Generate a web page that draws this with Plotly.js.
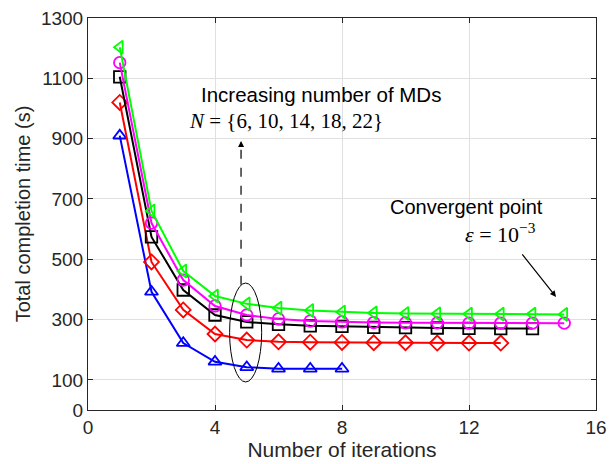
<!DOCTYPE html>
<html>
<head>
<meta charset="utf-8">
<script src="https://cdn.plot.ly/plotly-3.0.1.min.js"></script>
<style>
  html, body { margin: 0; padding: 0; background: #ffffff; }
  #chart { width: 616px; height: 464px; }
</style>
</head>
<body>
<div id="chart"></div>
<script>
// Total completion time per iteration for different numbers of MDs
const iterN6  = [1, 2, 3, 4, 5, 6, 7, 8];
const timeN6  = [910, 392, 222, 160, 142, 137, 137, 137];

const iterN10 = [1, 2, 3, 4, 5, 6, 7, 8, 9, 10, 11, 12, 13];
const timeN10 = [1020, 491, 332, 252, 232, 226, 225, 224, 223, 223, 222, 222, 222];

const iterN14 = [1, 2, 3, 4, 5, 6, 7, 8, 9, 10, 11, 12, 13, 14];
const timeN14 = [1105, 574, 398, 315, 292, 284, 279, 277, 274, 273, 272, 271, 270, 270];

const iterN18 = [1, 2, 3, 4, 5, 6, 7, 8, 9, 10, 11, 12, 13, 14, 15];
const timeN18 = [1152, 620, 431, 345, 315, 302, 295, 292, 290, 289, 289, 288, 288, 288, 288];

const iterN22 = [1, 2, 3, 4, 5, 6, 7, 8, 9, 10, 11, 12, 13, 14, 15];
const timeN22 = [1203, 660, 461, 378, 352, 338, 330, 325, 322, 320, 319, 318, 318, 318, 317];

const xTicks = [0, 4, 8, 12, 16];
const yTicks = [0, 100, 300, 500, 700, 900, 1100, 1300];

const SANS = 'Liberation Sans, Arial, sans-serif';
const SERIF = 'Liberation Serif, Times New Roman, serif';

function series(x, y, color, symbol) {
  return {
    x: x, y: y, type: 'scatter', mode: 'lines+markers',
    line: { color: color, width: 2 },
    marker: { symbol: symbol, size: 11.5, color: color, line: { color: color, width: 1.8 } },
    showlegend: false
  };
}

const traces = [
  series(iterN6,  timeN6,  '#0000ff', 'triangle-up-open'),
  series(iterN10, timeN10, '#ff0000', 'diamond-open'),
  series(iterN14, timeN14, '#000000', 'square-open'),
  series(iterN18, timeN18, '#ff00ff', 'circle-open'),
  series(iterN22, timeN22, '#00ff00', 'triangle-left-open')
];

const axisCommon = {
  showline: true, linecolor: '#262626', linewidth: 1, mirror: 'ticks',
  ticks: 'inside', ticklen: 5, tickcolor: '#262626',
  showgrid: true, gridcolor: '#e0e0e0', gridwidth: 1, zeroline: false,
  tickfont: { family: SANS, size: 19, color: '#262626' }
};

const layout = {
  width: 616, height: 464,
  margin: { l: 88, r: 20, t: 18, b: 54 },
  paper_bgcolor: '#ffffff', plot_bgcolor: '#ffffff',
  xaxis: Object.assign({}, axisCommon, {
    range: [0, 16], tickmode: 'array', tickvals: xTicks,
    title: { text: 'Number of iterations', standoff: 3,
             font: { family: SANS, size: 21, color: '#262626' } }
  }),
  yaxis: Object.assign({}, axisCommon, {
    range: [0, 1300], tickmode: 'array', tickvals: yTicks,
    title: { text: 'Total completion time (s)', standoff: 4,
             font: { family: SANS, size: 20, color: '#262626' } }
  }),
  shapes: [
    // ellipse around the fifth iteration
    { type: 'circle', xref: 'x', yref: 'y', x0: 4.46, x1: 5.47, y0: 93, y1: 421,
      line: { color: '#000000', width: 1 } },
    // dashed shaft of the upward arrow
    { type: 'line', xref: 'x', yref: 'y', x0: 4.82, x1: 4.82, y0: 415, y1: 870,
      line: { color: '#000000', width: 1.2, dash: 'dash' } }
  ],
  annotations: [
    { x: 4.82, y: 892, ax: 4.82, ay: 870, xref: 'x', yref: 'y', axref: 'x', ayref: 'y',
      text: '', showarrow: true, arrowhead: 2, arrowsize: 1, arrowwidth: 1.2, arrowcolor: '#000000' },
    { x: 14.74, y: 375, ax: 13.64, ay: 521, xref: 'x', yref: 'y', axref: 'x', ayref: 'y',
      text: '', showarrow: true, arrowhead: 2, arrowsize: 1, arrowwidth: 1.2, arrowcolor: '#000000' },
    { px: 321, py: 94, text: 'Increasing number of MDs',
      font: { family: SANS, size: 20.5, color: '#000000' } },
    { px: 286, py: 121, text: '<i>N</i> = {6, 10, 14, 18, 22}',
      font: { family: SERIF, size: 21, color: '#000000' } },
    { px: 466, py: 207, text: 'Convergent point',
      font: { family: SANS, size: 20, color: '#000000' } },
    { px: 500, py: 233, text: '<i>ε</i> = 10<sup>−3</sup>',
      font: { family: SERIF, size: 22, color: '#000000' } }
  ]
};

// text labels are placed in pixels; convert to paper coordinates
const plotW = 616 - 88 - 20, plotH = 464 - 18 - 54;
layout.annotations.forEach(function (a) {
  if (a.px !== undefined) {
    a.xref = 'paper'; a.yref = 'paper';
    a.x = (a.px - 88) / plotW;
    a.y = 1 - (a.py - 18) / plotH;
    a.showarrow = false; a.xanchor = 'center'; a.yanchor = 'middle';
    delete a.px; delete a.py;
  }
});

Plotly.newPlot('chart', traces, layout, { displayModeBar: false, staticPlot: true });
</script>
</body>
</html>
